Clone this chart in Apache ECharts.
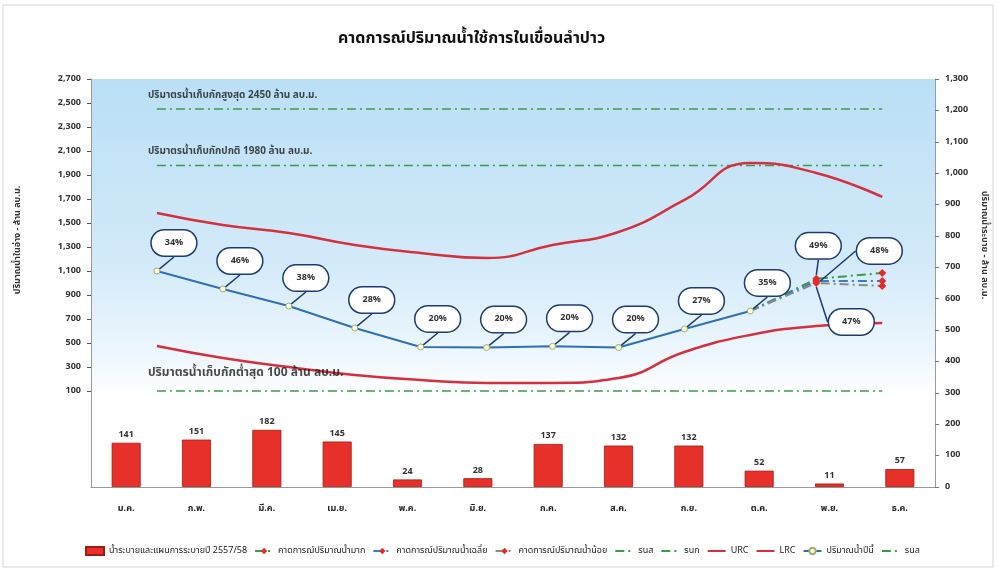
<!DOCTYPE html>
<html><head><meta charset="utf-8">
<script src="https://cdn.jsdelivr.net/npm/echarts@6/dist/echarts.min.js"></script>
<style>html,body{margin:0;padding:0;background:#fff}#c{width:998px;height:574px}</style>
</head><body><div id="c"></div>
<script>
// ---- data ----
const months = ['ม.ค.','ก.พ.','มี.ค.','เม.ย.','พ.ค.','มิ.ย.','ก.ค.','ส.ค.','ก.ย.','ต.ค.','พ.ย.','ธ.ค.'];
const release = [141,151,182,145,24,28,137,132,132,52,11,57];
const actual = [1100,950,808,625,467,462,472,462,617,767];
const actualPct = [34,46,38,28,20,20,20,20,27,35];
const fcHigh = [null,null,null,null,null,null,null,null,null,767,1035,1083];
const fcAvg  = [null,null,null,null,null,null,null,null,null,767,1017,1017];
const fcLow  = [null,null,null,null,null,null,null,null,null,767,1000,975];
const fcPct = [49,48,47];
const urc = [1583,1483,1417,1317,1250,1208,1317,1425,1692,2000,1917,1717];
const lrc = [475,375,300,233,192,167,167,208,425,567,642,667];
const levelMax = 2450, levelNormal = 1980, levelMin = 100;
const levelTexts = ['ปริมาตรน้ำเก็บกักสูงสุด 2450 ล้าน ลบ.ม.','ปริมาตรน้ำเก็บกักปกติ 1980 ล้าน ลบ.ม.','ปริมาตรน้ำเก็บกักต่ำสุด 100 ล้าน ลบ.ม.'];
const leftTicks = [100,300,500,700,900,1100,1300,1500,1700,1900,2100,2300,2500,2700];

// ---- chart ----
const FONT = "'Noto Sans Thai','Noto Sans','DejaVu Sans',sans-serif";
const chart = echarts.init(document.getElementById('c'));
const pairs = arr => arr.map((v,i)=>[i,v]).filter(p=>p[1]!=null);
const bubble = {
  show:true, position:'inside', backgroundColor:'#fff', borderColor:'#1f3a6e', borderWidth:1.5,
  borderRadius:14, padding:[8,13], fontSize:9, fontWeight:'bold', color:'#333', fontFamily:FONT
};
const guide = {show:true, lineStyle:{color:'#1f3a6e', width:1.5}};
const dashDot = [9,4,2,4];

function fcSeries(name, vals, pct, color, off) {
  const data = pairs(vals).map(p => {
    const o = {value:p};
    if (p[0]===9) o.symbol = 'none';
    if (p[0]===10) o.label = Object.assign({}, bubble, {formatter: pct + '%'});
    return o;
  });
  return {name, type:'line', xAxisIndex:1, yAxisIndex:0, data, symbol:'diamond', symbolSize:8,
    itemStyle:{color:'#e32b2b'}, lineStyle:{color, width:2, type:dashDot}, z:4,
    label:{show:false}, labelLine:guide, labelLayout:()=>({dx:off[0], dy:off[1]})};
}
function levelSeries(name, level, color) {
  return {name, type:'line', xAxisIndex:1, yAxisIndex:0, symbol:'none', data:[[0,level],[11,level]],
    itemStyle:{color}, lineStyle:{color, width:1.5, type:dashDot}, z:2};
}
const lineOnly = name => ({name, itemStyle:{opacity:0}});

const option = {
  backgroundColor:'#fff',
  textStyle:{fontFamily:FONT},
  title:{text:'คาดการณ์ปริมาณน้ำใช้การในเขื่อนลำปาว', left:333, top:27,
    textStyle:{fontSize:16, fontWeight:'bold', color:'#111', fontFamily:FONT}},
  graphic:[
    {type:'rect', shape:{x:3,y:5,width:990,height:562}, style:{fill:'none', stroke:'#d5d5d5', lineWidth:1}, silent:true},
    {type:'text', x:18, y:240, rotation:Math.PI/2, style:{text:'ปริมาณน้ำในอ่าง - ล้าน ลบ.ม.', fill:'#333', align:'center', verticalAlign:'middle', font:"bold 9px "+FONT}},
    {type:'text', x:984, y:245, rotation:-Math.PI/2, style:{text:'ปริมาณน้ำระบาย - ล้าน ลบ.ม.', fill:'#333', align:'center', verticalAlign:'middle', font:"bold 9px "+FONT}}
  ],
  grid:{left:91, right:63, top:79, bottom:87, show:true, borderWidth:0,
    backgroundColor:{type:'linear', x:0, y:0, x2:0, y2:1, colorStops:[
      {offset:0, color:'#badff5'},{offset:0.45, color:'#d3eaf9'},{offset:0.68, color:'#eef7fd'},{offset:0.78, color:'#ffffff'},{offset:1, color:'#ffffff'}]}},
  legend:{top:541, left:80, width:900, itemGap:7, itemWidth:18, itemHeight:8,
    textStyle:{fontSize:9, color:'#222', fontFamily:FONT},
    data:[{name:'น้ำระบายและแผนการระบายปี 2557/58', icon:'rect'},'คาดการณ์ปริมาณน้ำมาก','คาดการณ์ปริมาณน้ำเฉลี่ย','คาดการณ์ปริมาณน้ำน้อย',
      lineOnly('รนส'),lineOnly('รนก'),lineOnly('URC'),lineOnly('LRC'),'ปริมาณน้ำปีนี้',lineOnly('รนล')]},
  xAxis:[
    {type:'category', data:months, axisLine:{onZero:false, lineStyle:{color:'#9a9a9a'}}, axisTick:{show:false},
      axisLabel:{fontSize:9, fontWeight:'bold', color:'#222', margin:18, fontFamily:FONT}},
    {type:'value', min:-1, max:11.8, show:false, axisLine:{onZero:false}}
  ],
  yAxis:[
    {type:'value', min:-700, max:2700, position:'left', splitLine:{show:false},
      axisLine:{show:true, onZero:false, lineStyle:{color:'#9a9a9a'}},
      axisTick:{show:true, customValues:leftTicks, length:4, lineStyle:{color:'#555'}},
      axisLabel:{customValues:leftTicks, fontSize:9, color:'#333', fontWeight:'bold', margin:10,
        formatter:v=>v.toLocaleString('en-US')}},
    {type:'value', min:0, max:1300, interval:100, position:'right', splitLine:{show:false},
      axisLine:{show:true, onZero:false, lineStyle:{color:'#9a9a9a'}},
      axisTick:{show:true, length:4, lineStyle:{color:'#777'}},
      axisLabel:{fontSize:9, color:'#333', fontWeight:'bold', margin:10,
        formatter:v=>v.toLocaleString('en-US')}}
  ],
  series:[
    {name:'น้ำระบายและแผนการระบายปี 2557/58', type:'bar', xAxisIndex:0, yAxisIndex:1, data:release, barWidth:29,
      itemStyle:{color:'#e8302a', borderColor:'#9e1a12', borderWidth:0.8},
      label:{show:true, position:'top', fontSize:9, fontWeight:'bold', color:'#333', distance:3}},
    fcSeries('คาดการณ์ปริมาณน้ำมาก', fcHigh, fcPct[0], '#3f9a48', [2,-33]),
    fcSeries('คาดการณ์ปริมาณน้ำเฉลี่ย', fcAvg, fcPct[1], '#3b7fc0', [63,-30]),
    fcSeries('คาดการณ์ปริมาณน้ำน้อย', fcLow, fcPct[2], '#8a8a8a', [35,39]),
    levelSeries('รนส', levelMax, '#3f9a48'),
    levelSeries('รนก', levelNormal, '#3f9a48'),
    {name:'URC', type:'line', xAxisIndex:1, yAxisIndex:0, data:pairs(urc), smooth:true, symbol:'none',
      lineStyle:{color:'#d3313f', width:2.5}, itemStyle:{color:'#d3313f'}, z:3},
    {name:'LRC', type:'line', xAxisIndex:1, yAxisIndex:0, data:pairs(lrc), smooth:true, symbol:'none',
      lineStyle:{color:'#d3313f', width:2.5}, itemStyle:{color:'#d3313f'}, z:3},
    {name:'ปริมาณน้ำปีนี้', type:'line', xAxisIndex:1, yAxisIndex:0, data:pairs(actual), symbol:'circle', symbolSize:6,
      lineStyle:{color:'#2f6fb3', width:2}, itemStyle:{color:'#fbfbe0', borderColor:'#a4ad6a', borderWidth:1}, z:5,
      label:Object.assign({}, bubble, {formatter:p=>actualPct[p.dataIndex]+'%'}), labelLine:guide,
      labelLayout:()=>({dx:17, dy:-28})},
    levelSeries('รนล', levelMin, '#3f9a48'),
    {type:'scatter', xAxisIndex:1, yAxisIndex:0,
      data:[[0,levelMax],[0,levelNormal],{value:[0,levelMin], label:{fontSize:12, offset:[-9,-6]}}],
      symbolSize:1, itemStyle:{color:'rgba(0,0,0,0)'}, silent:true, z:6,
      label:{show:true, position:'top', align:'left', offset:[-9,-3], color:'#1a1a1a', fontWeight:'bold', fontFamily:FONT,
        formatter:p=>levelTexts[p.dataIndex], fontSize:10}}
  ]
};
chart.setOption(option);
</script></body></html>
